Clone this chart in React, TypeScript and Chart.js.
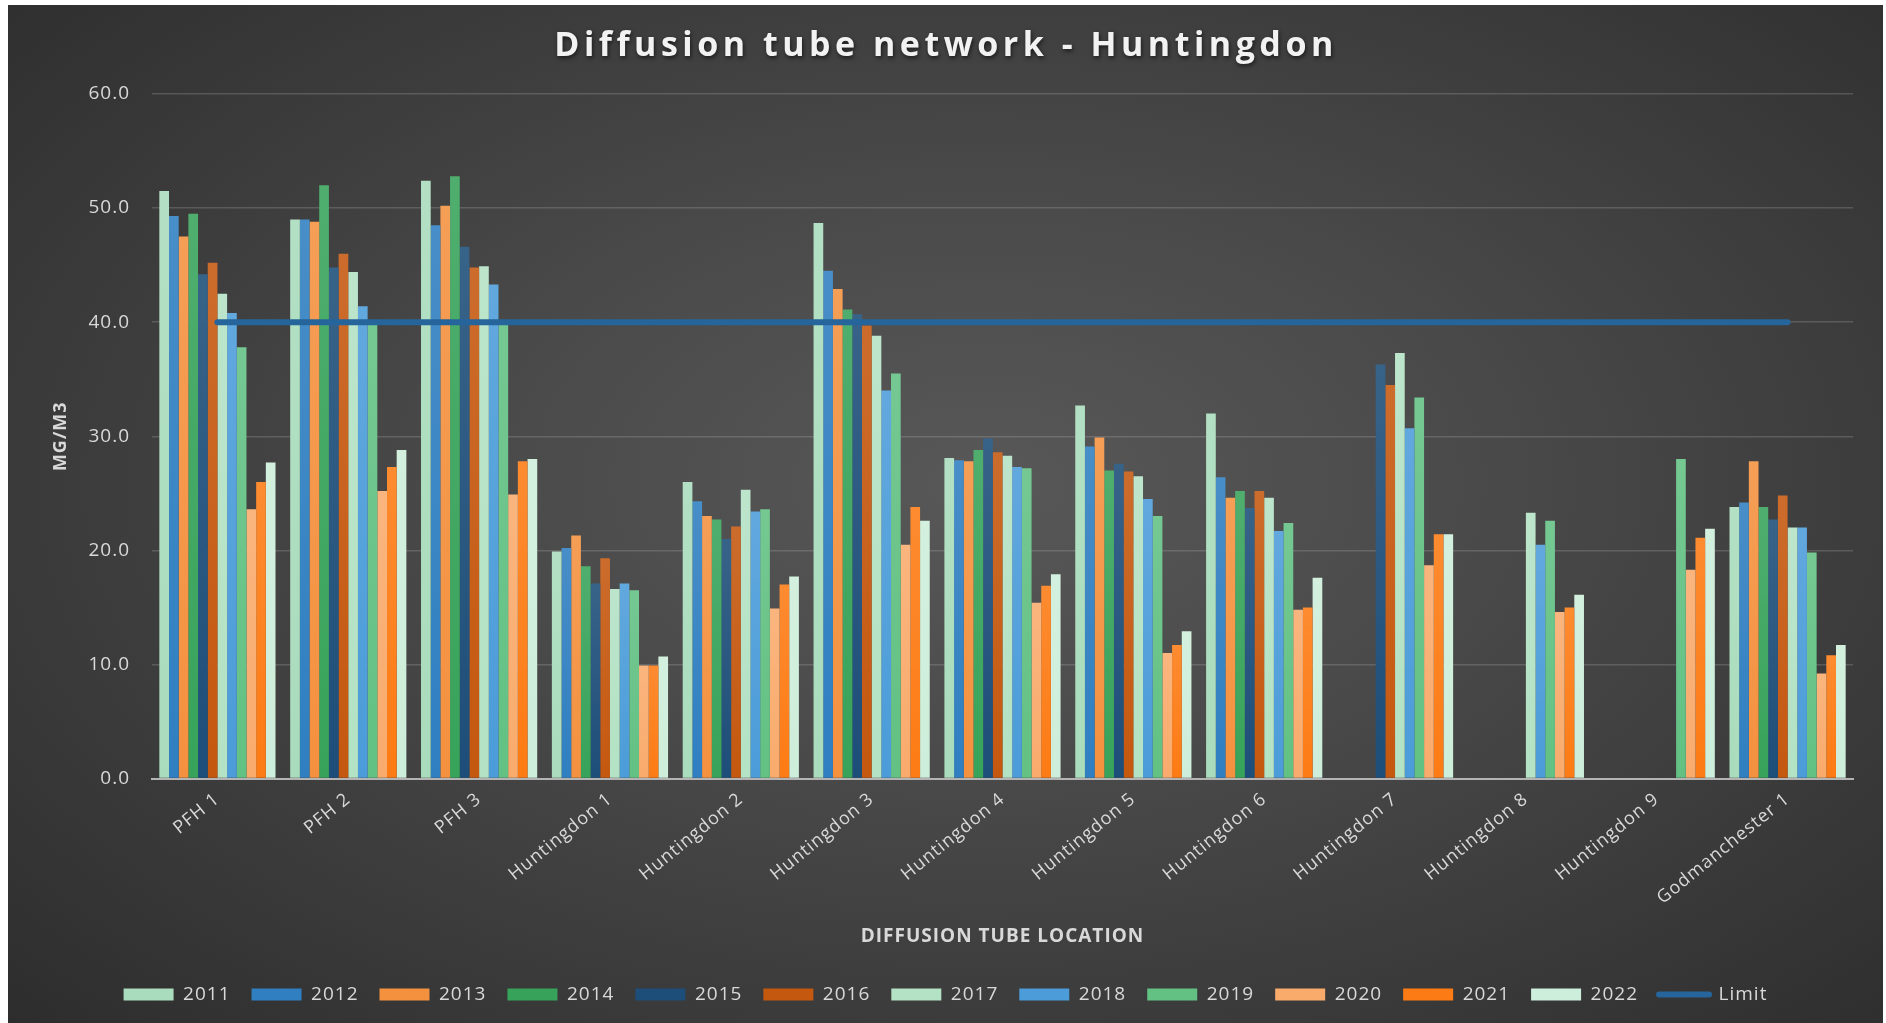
import React, { useEffect, useRef } from 'react';
import { Chart, registerables } from 'chart.js';

Chart.register(...registerables);

const TITLE = 'Diffusion tube network - Huntingdon';
const X_TITLE = 'DIFFUSION TUBE LOCATION';
const Y_TITLE = 'MG/M3';

const categories = [
  'PFH 1', 'PFH 2', 'PFH 3', 'Huntingdon 1', 'Huntingdon 2', 'Huntingdon 3',
  'Huntingdon 4', 'Huntingdon 5', 'Huntingdon 6', 'Huntingdon 7', 'Huntingdon 8',
  'Huntingdon 9', 'Godmanchester 1',
];

const years = ['2011', '2012', '2013', '2014', '2015', '2016', '2017', '2018', '2019', '2020', '2021', '2022'];

const v2011 = [51.5, 49.0, 52.4, 19.9, 26.0, 48.7, 28.1, 32.7, 32.0, null, null, null, 23.8];
const v2012 = [49.3, 49.0, 48.5, 20.2, 24.3, 44.5, 27.9, 29.1, 26.4, null, null, null, 24.2];
const v2013 = [47.5, 48.8, 50.2, 21.3, 23.0, 42.9, 27.8, 29.9, 24.6, null, null, null, 27.8];
const v2014 = [49.5, 52.0, 52.8, 18.6, 22.7, 41.1, 28.8, 27.0, 25.2, null, null, null, 23.8];
const v2015 = [44.2, 44.8, 46.6, 17.1, 21.0, 40.7, 29.8, 27.6, 23.7, 36.3, null, null, 22.7];
const v2016 = [45.2, 46.0, 44.8, 19.3, 22.1, 39.7, 28.6, 26.9, 25.2, 34.5, null, null, 24.8];
const v2017 = [42.5, 44.4, 44.9, 16.6, 25.3, 38.8, 28.3, 26.5, 24.6, 37.3, 23.3, null, 22.0];
const v2018 = [40.8, 41.4, 43.3, 17.1, 23.4, 34.0, 27.3, 24.5, 21.7, 30.7, 20.5, null, 22.0];
const v2019 = [37.8, 39.8, 40.2, 16.5, 23.6, 35.5, 27.2, 23.0, 22.4, 33.4, 22.6, 28.0, 19.8];
const v2020 = [23.6, 25.2, 24.9, 9.9, 14.9, 20.5, 15.4, 11.0, 14.8, 18.7, 14.6, 18.3, 9.2];
const v2021 = [26.0, 27.3, 27.8, 9.9, 17.0, 23.8, 16.9, 11.7, 15.0, 21.4, 15.0, 21.1, 10.8];
const v2022 = [27.7, 28.8, 28.0, 10.7, 17.7, 22.6, 17.9, 12.9, 17.6, 21.4, 16.1, 21.9, 11.7];
const limitValues = [40, 40, 40, 40, 40, 40, 40, 40, 40, 40, 40, 40, 40];

const seriesValues = [v2011, v2012, v2013, v2014, v2015, v2016, v2017, v2018, v2019, v2020, v2021, v2022];

const barColors = [
  '#a9dcbc', '#2f7fc1', '#f4913f', '#37a35a', '#1d4e79', '#c5580f',
  '#b3e2c4', '#4b9cd9', '#62c183', '#f9ab6c', '#fd7b14', '#cdeeda',
];
const limitColor = '#25659b';

const yTicks = [0, 10, 20, 30, 40, 50, 60];

function lighten(hex: string, amt: number): string {
  const n = parseInt(hex.slice(1), 16);
  const r = (n >> 16) & 255, g = (n >> 8) & 255, b = n & 255;
  const f = (c: number) => Math.round(c + (255 - c) * amt);
  return `rgb(${f(r)},${f(g)},${f(b)})`;
}

const spacingPlugin = {
  id: 'letterSpacingAll',
  beforeLayout(chart: any) { chart.ctx.letterSpacing = '1px'; },
  beforeDraw(chart: any) { chart.ctx.letterSpacing = '1px'; },
};

const titlePlugin = {
  id: 'spacedTitle',
  afterDraw(chart: any) {
    const ctx = chart.ctx;
    ctx.save();
    ctx.font = 'bold 34px "Open Sans"';
    ctx.letterSpacing = '4.5px';
    ctx.fillStyle = '#f2f2f2';
    ctx.textAlign = 'center';
    ctx.textBaseline = 'middle';
    ctx.shadowColor = 'rgba(0,0,0,0.6)';
    ctx.shadowBlur = 4;
    ctx.shadowOffsetX = 1;
    ctx.shadowOffsetY = 2;
    ctx.fillText(TITLE, 938, 41);
    ctx.restore();
  },
};

export default function App() {
  const ref = useRef<HTMLCanvasElement | null>(null);

  useEffect(() => {
    if (!ref.current) return;
    const barSets = years.map((y, i) => ({
      type: 'bar' as const,
      label: y,
      data: seriesValues[i],
      order: 1,
      borderWidth: 0,
      backgroundColor: (c: any) => {
        const base = barColors[i];
        const chart = c.chart;
        const area = chart.chartArea;
        if (!area || c.type !== 'data' || c.raw == null || !chart.scales.y) return base;
        const top = chart.scales.y.getPixelForValue(c.raw);
        if (!isFinite(top) || area.bottom - top < 1) return base;
        const g = chart.ctx.createLinearGradient(0, top, 0, area.bottom);
        g.addColorStop(0, lighten(base, 0.12));
        g.addColorStop(1, base);
        return g;
      },
      categoryPercentage: 0.888,
      barPercentage: 1.0,
    }));

    const chart = new Chart(ref.current, {
      type: 'bar',
      data: {
        labels: categories,
        datasets: [
          ...barSets,
          {
            type: 'line' as const,
            label: 'Limit',
            data: limitValues,
            order: 0,
            borderColor: limitColor,
            backgroundColor: limitColor,
            borderWidth: 6,
            borderCapStyle: 'round',
            pointRadius: 0,
            pointHoverRadius: 0,
            fill: false,
          },
        ] as any,
      },
      options: {
        animation: false,
        responsive: false,
        events: [],
        layout: { padding: { top: 89, left: 30, right: 30, bottom: 9 } },
        plugins: {
          title: { display: false },
          tooltip: { enabled: false },
          legend: {
            display: true,
            position: 'bottom',
            labels: {
              usePointStyle: true,
              pointStyleWidth: 50,
              boxHeight: 12,
              padding: 21,
              color: '#d9d9d9',
              font: { family: '"Open Sans"', size: 19 },
              generateLabels: (ch: any) =>
                ch.data.datasets.map((ds: any, i: number) => {
                  const isLine = i === years.length;
                  const col = isLine ? limitColor : barColors[i];
                  return {
                    text: ds.label,
                    datasetIndex: i,
                    fillStyle: col,
                    strokeStyle: col,
                    lineWidth: isLine ? 6 : 0,
                    lineCap: 'round',
                    pointStyle: isLine ? 'line' : 'rect',
                    hidden: false,
                    fontColor: '#d9d9d9',
                  };
                }),
            },
          },
        },
        scales: {
          x: {
            grid: { display: false, drawTicks: false },
            border: { display: true, color: '#b4b4b4', width: 2 },
            ticks: {
              autoSkip: false,
              minRotation: 39,
              maxRotation: 39,
              padding: 10,
              color: '#d9d9d9',
              font: { family: '"Open Sans"', size: 18 },
            },
            title: {
              display: true,
              text: X_TITLE,
              color: '#d9d9d9',
              font: { family: '"Open Sans"', size: 19, weight: 'bold' },
              padding: { top: 0, bottom: 16.5 },
            },
            afterFit: (s: any) => { s.height = 185.5; },
          },
          y: {
            min: 0,
            max: 60,
            afterBuildTicks: (s: any) => { s.ticks = yTicks.map((v) => ({ value: v })); },
            grid: { color: 'rgba(200,200,200,0.22)', lineWidth: 1.4, drawTicks: false },
            border: { display: false },
            ticks: {
              padding: 22,
              color: '#d9d9d9',
              font: { family: '"Open Sans"', size: 19 },
              callback: (v: any) => Number(v).toFixed(1),
            },
            title: {
              display: true,
              text: Y_TITLE,
              color: '#d9d9d9',
              font: { family: '"Open Sans"', size: 18, weight: 'bold' },
              padding: { top: 12, bottom: 0 },
            },
            afterFit: (s: any) => { s.width = 114; },
          },
        },
      },
      plugins: [spacingPlugin, titlePlugin],
    });
    return () => chart.destroy();
  }, []);

  return (
    <div
      style={{
        position: 'fixed',
        left: 8,
        top: 5,
        width: 1875,
        height: 1018,
        background:
          'radial-gradient(ellipse 75% 80% at 52% 47%, #585858 0%, #4a4a4a 35%, #2b2b2b 100%)',
      }}
    >
      <canvas ref={ref} width={1875} height={1018} style={{ display: 'block' }} />
    </div>
  );
}
